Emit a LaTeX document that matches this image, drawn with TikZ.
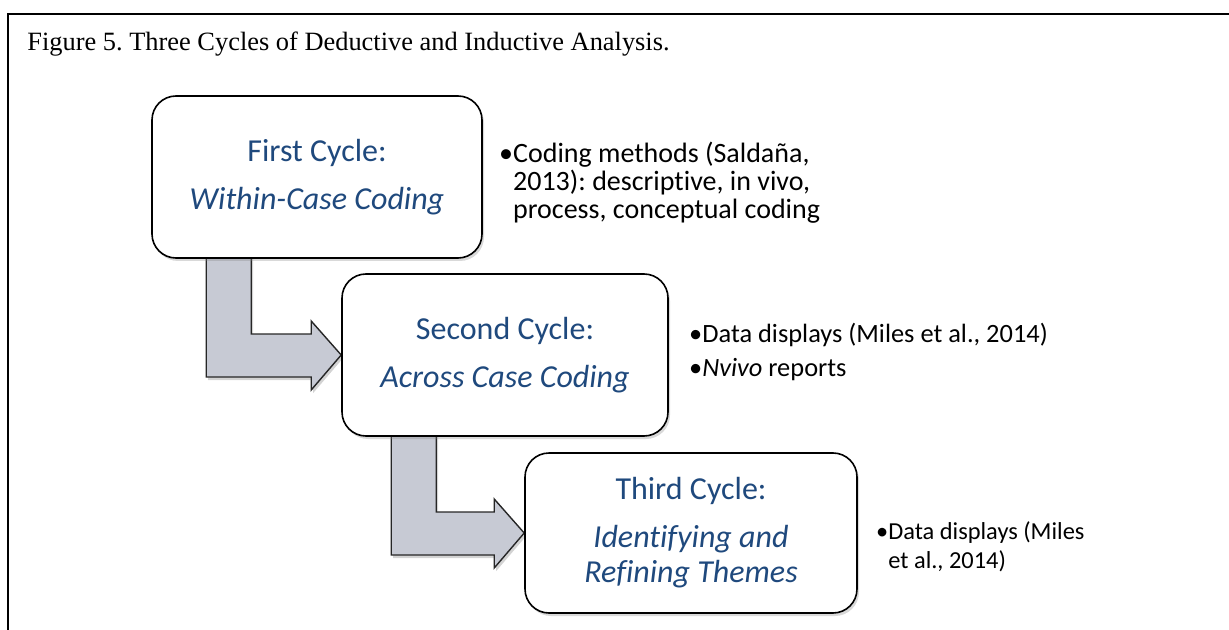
\documentclass[tikz,border=0pt]{standalone}
\usepackage{fontspec}
\setmainfont{Carlito}[Ligatures=NoCommon]
\newfontfamily\capfont{Liberation Serif}
\usetikzlibrary{positioning,calc,shadows,backgrounds}
\definecolor{cycleblue}{RGB}{31,73,125}
\definecolor{arrowgray}{RGB}{199,202,212}
\tikzset{
  cyclebox/.style={draw=black,line width=.8pt,rounded corners=12pt,fill=white,
    minimum width=165pt,minimum height=81pt,align=center,text=cycleblue,
    font=\fontsize{16}{17.5}\selectfont,
    drop shadow={opacity=.3,shadow xshift=1pt,shadow yshift=-1.5pt}},
  notes/.style={align=left,font=\fontsize{13}{14}\selectfont,inner sep=0pt},
  bentarrow/.style={draw=black!85,line width=.7pt,fill=arrowgray,
    drop shadow={opacity=.35,shadow xshift=1pt,shadow yshift=-1.5pt}}
}
% bent block arrow: #1 from node, #2 to node, #3 shaft offset
\newcommand\bentarrow[3]{%
  \coordinate (s) at ($(#1.south west)+(#3,-10)$);
  \path[bentarrow] (s) -- ++(45,0) |- ($(#2.west)+(-30,-21)$) -- ++(0,-13)
    -- (#2.west) -- ++(-30,35) -- ++(0,-13) -| (s) -- cycle;}
\newcommand\blt{\textbullet}
\newcommand\nobl{\hphantom{\textbullet}}
\begin{document}
\frenchspacing
\begin{tikzpicture}[x=.5pt,y=-.5pt]
\useasboundingbox (0,0) rectangle (1229,630);
\draw[line width=1pt] (8,630) -- (8,14) -- (1229,14);
\node[anchor=west,inner sep=0pt,font=\capfont\fontsize{13.2}{15}\selectfont] (title) at (27,44)
  {Figure 5. Three Cycles of Deductive and Inductive Analysis.};
% cycles
\node[cyclebox] (first) at (317,177) {First Cycle:\\[6.5pt]\textit{Within-Case Coding}};
\node[cyclebox,minimum width=163pt] (second) at (505,355) {Second Cycle:\\[6.5pt]\textit{Across Case Coding}};
\node[cyclebox,minimum width=166pt,minimum height=80pt] (third) at (691,533)
  {Third Cycle:\\[6.5pt]\textit{Identifying and}\\\textit{Refining Themes}};
% arrows behind the boxes
\begin{pgfonlayer}{background}
\bentarrow{first}{second}{55}
\bentarrow{second}{third}{50}
\end{pgfonlayer}
% notes
\node[notes,font=\fontsize{14}{14}\selectfont,right=8pt of first,yshift=-3pt] (firstnote)
  {\blt Coding methods (Saldaña,\\\nobl 2013): descriptive, in vivo,\\\nobl process, conceptual coding};
\node[notes,font=\fontsize{13.2}{14}\selectfont,right=10pt of second,yshift=1.5pt] (secondnote)
  {\blt Data displays (Miles et al., 2014)\\[3pt]\blt\textit{Nvivo} reports};
\node[notes,font=\fontsize{12.2}{14.5}\selectfont,right=9pt of third,yshift=-7pt] (thirdnote)
  {\blt Data displays (Miles\\\nobl et al., 2014)};
\end{tikzpicture}
\end{document}
